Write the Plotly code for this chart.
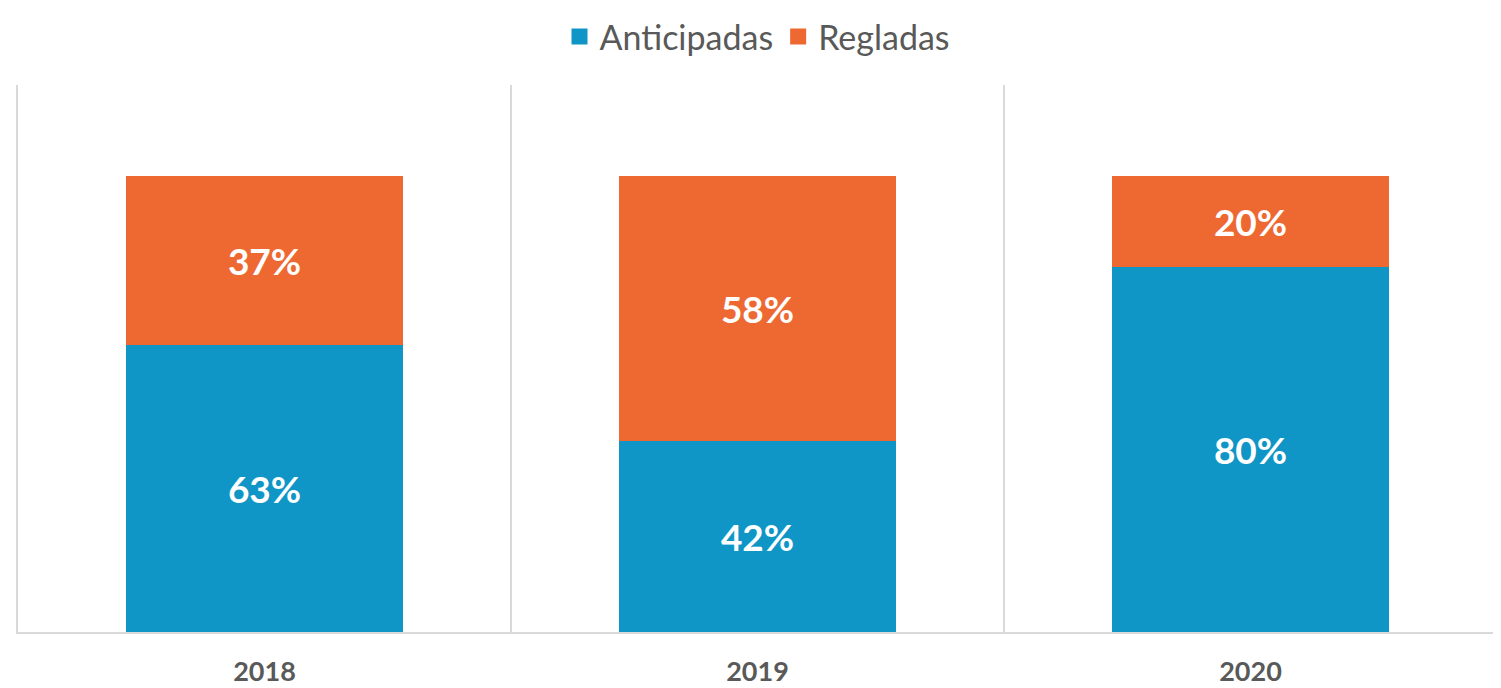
import plotly.graph_objects as go

years = ["2018", "2019", "2020"]
anticipadas = [63, 42, 80]
regladas = [37, 58, 20]
series_names = ["Anticipadas", "Regladas"]
colors = ["#0F96C6", "#EE6932"]

FONT = "Lato, Open Sans, sans-serif"

fig = go.Figure()
for name, vals, col in zip(series_names, [anticipadas, regladas], colors):
    fig.add_trace(go.Bar(
        x=years, y=[v / 100 for v in vals], name=name,
        marker=dict(color=col, line=dict(width=0)),
        text=[f"{v}%" for v in vals], textposition="inside",
        insidetextanchor="middle",
        textfont=dict(color="white", size=37, family=FONT, weight="bold"),
        constraintext="none",
        hoverinfo="skip", showlegend=False, legendgroup=name,
    ))
# legend entries with larger square swatches
for name, col in zip(series_names, colors):
    fig.add_trace(go.Scatter(
        x=[None], y=[None], mode="markers", name=name, legendgroup=name,
        marker=dict(symbol="square", size=22, color=col),
        hoverinfo="skip",
    ))

fig.update_layout(
    barmode="stack", bargap=0.44,
    width=1501, height=688,
    margin=dict(l=10, r=12, t=77, b=64, autoexpand=False),
    paper_bgcolor="white", plot_bgcolor="white",
    font=dict(family=FONT, color="#595959"),
    legend=dict(orientation="h", x=0.5, xanchor="center", y=1 + 77 / 547, yanchor="top",
                font=dict(size=34, color="#595959"), itemsizing="trace",
                traceorder="normal"),
    showlegend=True,
)
fig.update_xaxes(type="category", tickson="boundaries", showgrid=True, gridcolor="#D9D9D9",
                 gridwidth=2, showline=True, linecolor="#D9D9D9", linewidth=2,
                 ticks="", tickfont=dict(size=27, color="#595959", weight="bold"),
                 ticklabelstandoff=15, automargin=False)
fig.update_yaxes(range=[0, 1.2], showgrid=False, showticklabels=False, zeroline=False,
                 showline=True, mirror=True, linecolor="#D9D9D9", linewidth=2,
                 automargin=False)

fig.write_html("out.html")
